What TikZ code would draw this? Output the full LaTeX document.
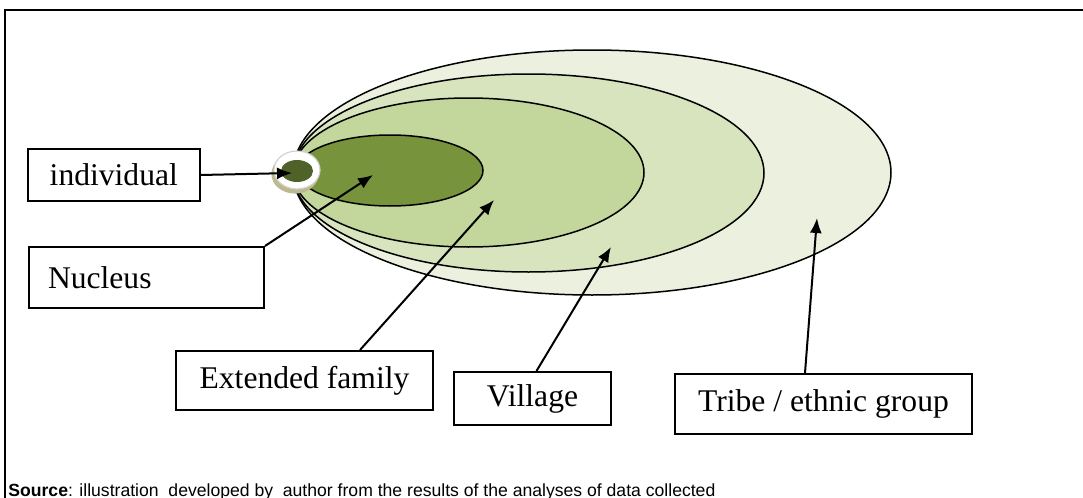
\documentclass[tikz,border=0pt]{standalone}
\usepackage{fontspec}
\setmainfont{Liberation Serif}
\setsansfont{Liberation Sans}
\usepackage{tikz}
\usetikzlibrary{arrows.meta, positioning}
\definecolor{tribecol}{HTML}{EBF1DE}
\definecolor{villcol}{HTML}{D7E4BD}
\definecolor{famcol}{HTML}{C3D69B}
\definecolor{nuccol}{HTML}{77933C}
\definecolor{indcol}{HTML}{4F6228}
\tikzset{
  lab/.style={draw, line width=1pt, fill=white, font=\fontsize{15.8}{18}\selectfont, inner sep=0pt},
  layer/.style={draw=black, line width=0.75pt},
  pointer/.style={-{Latex[length=7.5pt, width=6pt]}, line width=1pt},
}

\begin{document}
\begin{tikzpicture}[x=0.5pt, y=-0.5pt]
  \useasboundingbox (0,0) rectangle (1083,498);
  \draw[line width=1pt] (5,498) -- (5,10) -- (1083,10);

  % nested circles, outer first
  \filldraw[layer, fill=tribecol] (592,172.5) ellipse [x radius=149.5pt, y radius=61.25pt];
  \filldraw[layer, fill=villcol] (528.5,173) ellipse [x radius=117.75pt, y radius=49.5pt];
  \filldraw[layer, fill=famcol] (468.5,172.5) ellipse [x radius=87.75pt, y radius=37.25pt];
  \filldraw[layer, fill=nuccol] (390,170.5) ellipse [x radius=46.5pt, y radius=17.75pt];
  \fill[gray!60!olive!60] (295,174) ellipse [x radius=11.8pt, y radius=9.8pt];
  \filldraw[fill=white, draw=gray!35, line width=0.6pt] (297,170) ellipse [x radius=11.5pt, y radius=9.5pt];
  \fill[indcol] (297,171) ellipse [x radius=8pt, y radius=5.5pt];

  \node[lab, minimum width=86pt, minimum height=26pt] (ind) at (113.8,175) {individual};
  \node[lab, minimum width=117.5pt, minimum height=30.5pt, text width=98.5pt, align=left] (nuc) at (146.5,277.5) {Nucleus};
  \node[lab, minimum width=128.5pt, minimum height=29.5pt] (ext) at (304.5,380.5) {Extended family};
  \node[lab, minimum width=78.5pt, minimum height=26.5pt] (vil) at (532.5,398.5) {Village};
  \node[lab, minimum width=148.5pt, minimum height=30pt] (tri) at (823.5,404) {Tribe / ethnic group};

  \coordinate (indtip) at (292,173);
  \coordinate (nuctip) at (373,175);
  \coordinate (exttip) at (494,200);
  \coordinate (viltip) at (611,247);
  \coordinate (tritip) at (817,218);

  \draw[pointer] (ind.east) -- (indtip);
  \draw[pointer] (nuc.north east) -- (nuctip);
  \draw[pointer] ([xshift=27.75pt]ext.north) -- (exttip);
  \draw[pointer] ([xshift=2pt]vil.north) -- (viltip);
  \draw[pointer] ([xshift=-9.25pt]tri.north) -- (tritip);

  \node[anchor=base west, inner sep=0pt, font=\sffamily\fontsize{8.8}{10}\selectfont] (src) at (8,496)
    {\textbf{Source}: illustration\ \ developed by\ \ author from the results of the analyses of data collected};
\end{tikzpicture}
\end{document}
